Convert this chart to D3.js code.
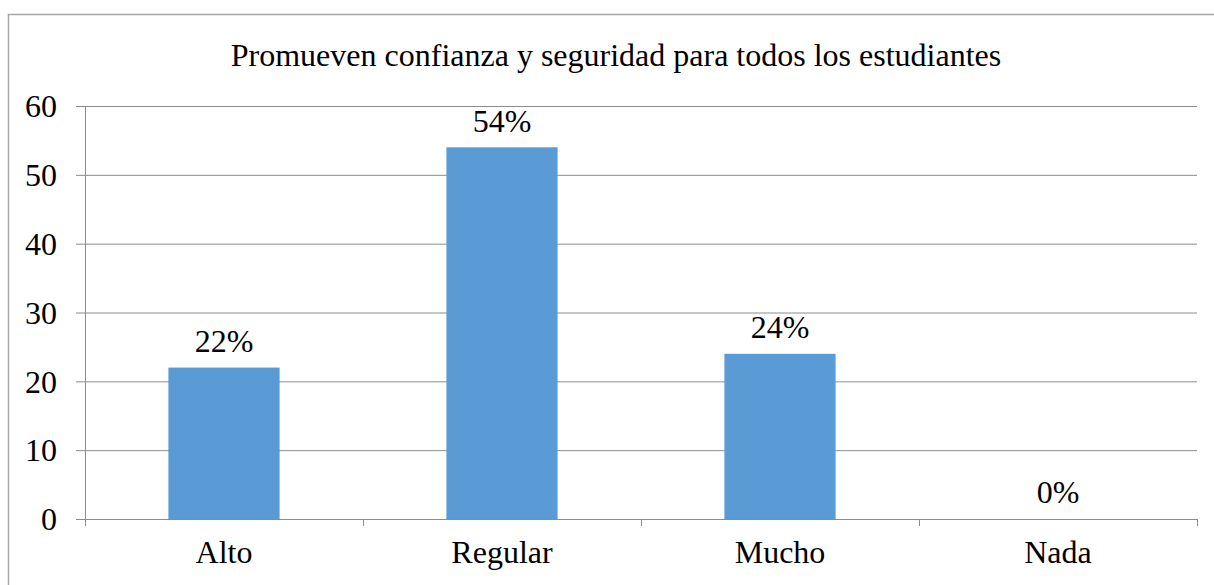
<html>
<head><meta charset="utf-8"/></head>
<script src='https://d3js.org/d3.v7.min.js'></script>
<style>
	body {margin: 0; background: white;}
	svg text {font-family: 'Liberation Serif', 'DejaVu Serif', serif; fill: black;}
</style>
<body>
<svg width=1214 height=585></svg>
<script>

var categories = ["Alto", "Regular", "Mucho", "Nada"];
var values = [22, 54, 24, 0];
var labels = ["22%", "54%", "24%", "0%"];
var yTicks = [0, 10, 20, 30, 40, 50, 60];
var title = "Promueven confianza y seguridad para todos los estudiantes";

var svg = d3.select("svg");
var plotLeft = 85, plotRight = 1197, plotTop = 106, plotBottom = 519;
var fontSize = "32px";
var serif = "'Liberation Serif', 'DejaVu Serif', serif";

// outer frame (runs off the right and bottom edges)
svg.append("rect")
	.attr("x", 8.5).attr("y", 14.5)
	.attr("width", 1300).attr("height", 700)
	.attr("fill", "none")
	.attr("stroke", "#a6a6a6")
	.attr("stroke-width", 1.5);

var x = d3.scaleBand().domain(categories).range([plotLeft, plotRight]).paddingInner(0.6).paddingOuter(0.3);
var y = d3.scaleLinear().domain([0, 60]).range([plotBottom, plotTop]);

// gridlines
svg.append("g")
	.selectAll("line")
	.data(yTicks)
	.enter()
	.append("line")
	.attr("x1", plotLeft - 9).attr("x2", plotRight)
	.attr("y1", function(d) { return y(d) + 0.5; })
	.attr("y2", function(d) { return y(d) + 0.5; })
	.attr("stroke", "#8c8c8c")
	.attr("stroke-width", 1);

// y axis line
svg.append("line")
	.attr("x1", plotLeft + 0.5).attr("x2", plotLeft + 0.5)
	.attr("y1", plotTop).attr("y2", plotBottom + 7)
	.attr("stroke", "#8c8c8c");

// category boundary ticks
var step = (plotRight - plotLeft) / categories.length;
svg.append("g")
	.selectAll("line")
	.data(d3.range(categories.length + 1))
	.enter()
	.append("line")
	.attr("x1", function(i) { return plotLeft + i * step + 0.5; })
	.attr("x2", function(i) { return plotLeft + i * step + 0.5; })
	.attr("y1", plotBottom).attr("y2", plotBottom + 7)
	.attr("stroke", "#8c8c8c");

// y tick labels
svg.append("g")
	.selectAll("text")
	.data(yTicks)
	.enter()
	.append("text")
	.attr("x", 57)
	.attr("y", function(d) { return y(d); })
	.attr("dy", "0.35em")
	.attr("text-anchor", "end")
	.attr("font-family", serif)
	.style("font-size", fontSize)
	.text(function(d) { return d; });

// bars
svg.append("g")
	.selectAll("rect")
	.data(values)
	.enter()
	.append("rect")
	.attr("x", function(d, i) { return x(categories[i]); })
	.attr("width", x.bandwidth())
	.attr("y", function(d) { return y(d); })
	.attr("height", function(d) { return y(0) - y(d); })
	.attr("fill", "#5b9bd5");

// value labels
svg.append("g")
	.selectAll("text")
	.data(values)
	.enter()
	.append("text")
	.attr("x", function(d, i) { return x(categories[i]) + x.bandwidth() / 2; })
	.attr("y", function(d) { return y(d) - 27; })
	.attr("dy", "0.35em")
	.attr("text-anchor", "middle")
	.attr("font-family", serif)
	.style("font-size", fontSize)
	.text(function(d, i) { return labels[i]; });

// category labels
svg.append("g")
	.selectAll("text")
	.data(categories)
	.enter()
	.append("text")
	.attr("x", function(d) { return x(d) + x.bandwidth() / 2; })
	.attr("y", 552)
	.attr("dy", "0.35em")
	.attr("text-anchor", "middle")
	.attr("font-family", serif)
	.style("font-size", fontSize)
	.text(function(d) { return d; });

// title
svg.append("text")
	.attr("x", 616)
	.attr("y", 55)
	.attr("dy", "0.35em")
	.attr("text-anchor", "middle")
	.attr("font-family", serif)
	.style("font-size", fontSize)
	.text(title);
</script>
</body>
</html>
